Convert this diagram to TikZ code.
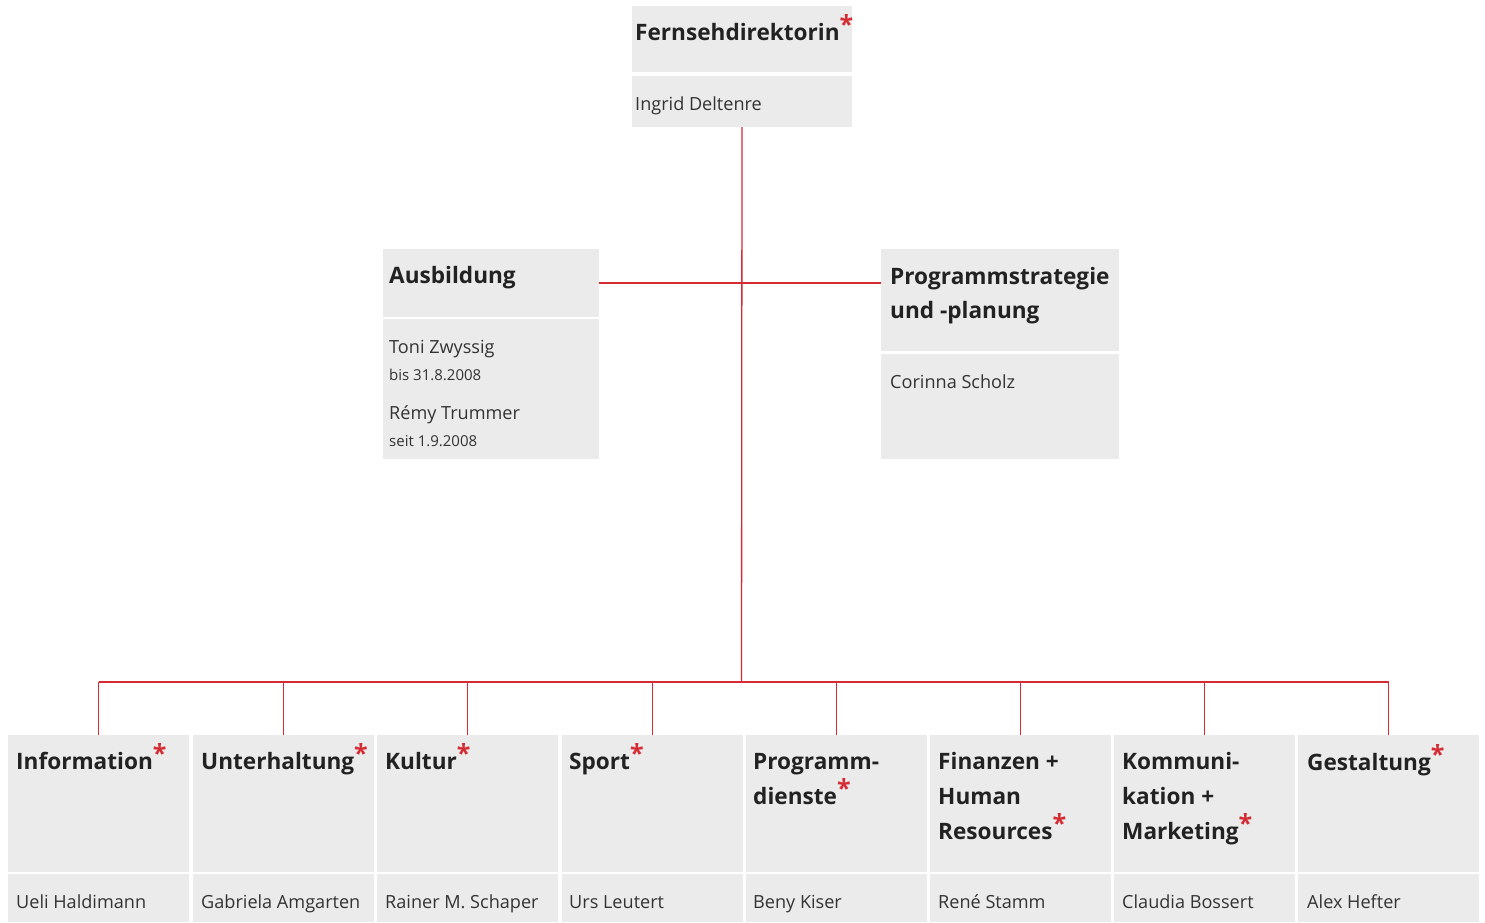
\documentclass[tikz,border=0pt]{standalone}
\usepackage{fontspec}
\setmainfont{Open Sans}
\definecolor{boxgray}{HTML}{EBEBEB}
\definecolor{orgred}{HTML}{D52B33}
\definecolor{txt}{HTML}{222222}
\definecolor{nametxt}{HTML}{333333}
\newcommand{\redstar}{\textcolor{orgred}{\raisebox{0.28em}{\fontsize{25}{25}\selectfont*}}}
\tikzset{
  cell/.style={fill=boxgray, inner sep=0pt, outer sep=0pt, anchor=north west},
  head/.style={anchor=base west, inner sep=0pt, font=\bfseries\fontsize{22.6}{22.6}\selectfont, text=txt},
  bighead/.style={anchor=base west, inner sep=0pt, font=\bfseries\fontsize{22.6}{22.6}\selectfont, text=txt},
  person/.style={anchor=base west, inner sep=0pt, font=\fontsize{18.1}{18.1}\selectfont, text=nametxt},
  datum/.style={anchor=base west, inner sep=0pt, font=\fontsize{15}{15}\selectfont, text=nametxt},
  link/.style={draw=orgred, line width=1.3pt},
}
\begin{document}
\begin{tikzpicture}[x=1pt,y=-1pt]
\useasboundingbox (0,0) rectangle (1485,922);
% top
\node[cell, minimum width=220pt, minimum height=66pt] (dirH) at (632,6) {};
\node[cell, minimum width=220pt, minimum height=51pt] (dirN) at (632,76) {};
\node[head] (dirT) at (635,40) {Fernsehdirektorin\redstar};
\node[person] (dirP) at (635,110) {Ingrid Deltenre};
% Ausbildung
\node[cell, minimum width=216pt, minimum height=68pt] (ausH) at (383,249) {};
\node[cell, minimum width=216pt, minimum height=140pt] (ausN) at (383,319) {};
\node[head] (ausT) at (389,283) {Ausbildung};
\node[person] (ausP1) at (389,353) {Toni Zwyssig};
\node[datum] (ausD1) at (389,380) {bis 31.8.2008};
\node[person] (ausP2) at (389,419) {Rémy Trummer};
\node[datum] (ausD2) at (389,446) {seit 1.9.2008};
% Programmstrategie
\node[cell, minimum width=238pt, minimum height=102pt] (prgH) at (881,249) {};
\node[cell, minimum width=238pt, minimum height=105pt] (prgN) at (881,354) {};
\node[head] (prgT1) at (890,284) {Programmstrategie};
\node[head] (prgT2) at (890,318) {und -planung};
\node[person] (prgP) at (890,388) {Corinna Scholz};
% bottom row
\foreach \i/\x in {1/8,2/193,3/377,4/562,5/746,6/930,7/1114,8/1298}{
  \node[cell, minimum width=181pt, minimum height=137pt] (h\i) at (\x,735) {};
  \node[cell, minimum width=181pt, minimum height=48pt] (n\i) at (\x,874) {};
}
\node[bighead] (t1) at (16,769) {Information\redstar};
\node[bighead] (t2) at (201,769) {Unterhaltung\redstar};
\node[bighead] (t3) at (385,769) {Kultur\redstar};
\node[bighead] (t4) at (569,769) {Sport\redstar};
\node[bighead] (t5a) at (753,769) {Programm-};
\node[bighead] (t5b) at (753,804) {dienste\redstar};
\node[bighead] (t6a) at (938,769) {Finanzen +};
\node[bighead] (t6b) at (938,804) {Human};
\node[bighead] (t6c) at (938,839) {Resources\redstar};
\node[bighead] (t7a) at (1122,769) {Kommuni-};
\node[bighead] (t7b) at (1122,804) {kation +};
\node[bighead] (t7c) at (1122,839) {Marketing\redstar};
\node[bighead] (t8) at (1307,770) {Gestaltung\redstar};
\node[person] (p1) at (16,908) {Ueli Haldimann};
\node[person] (p2) at (201,908) {Gabriela Amgarten};
\node[person] (p3) at (385,908) {Rainer M. Schaper};
\node[person] (p4) at (569,908) {Urs Leutert};
\node[person] (p5) at (753,908) {Beny Kiser};
\node[person] (p6) at (938,908) {René Stamm};
\node[person] (p7) at (1122,908) {Claudia Bossert};
\node[person] (p8) at (1307,908) {Alex Hefter};
% connectors
\coordinate (bus) at (741.5,682);
\draw[link] (dirN.south) -- (bus);
\draw[link] (ausH.east) -- (ausH.east -| prgH.west);
\draw[link] (h1.north |- bus) -- (h8.north |- bus);
\foreach \i in {1,...,8}{
  \draw[link] (h\i.north) -- (h\i.north |- bus);
}
\end{tikzpicture}
\end{document}
